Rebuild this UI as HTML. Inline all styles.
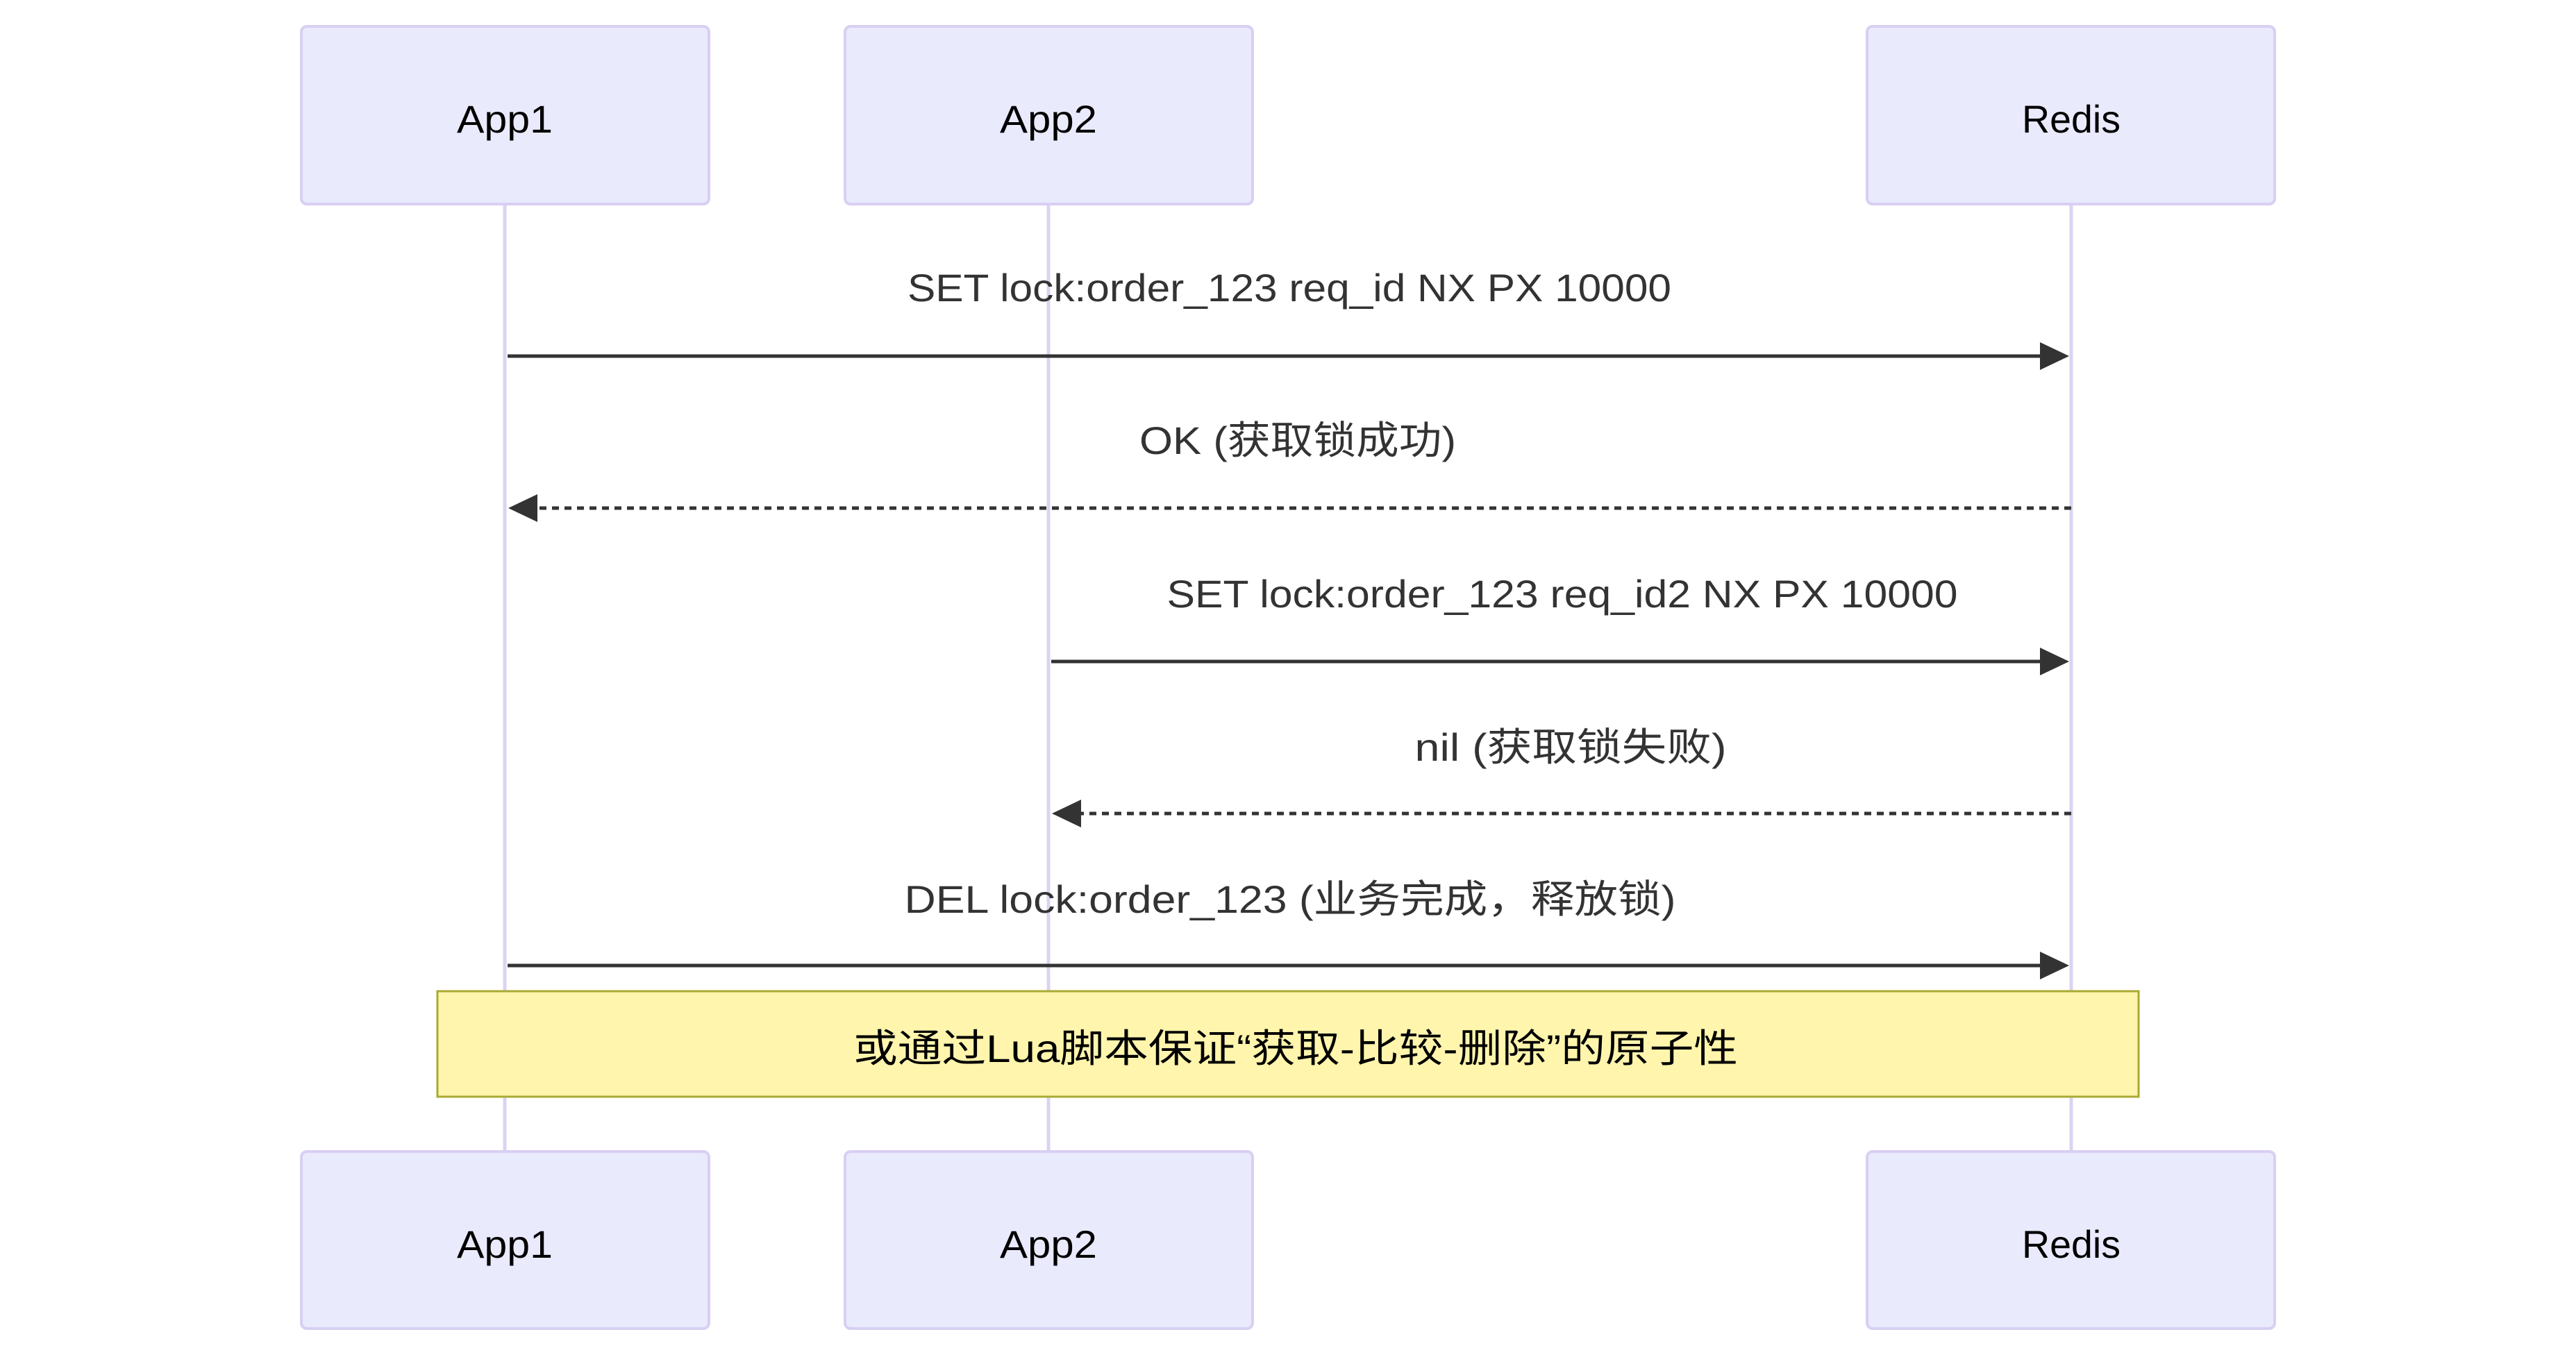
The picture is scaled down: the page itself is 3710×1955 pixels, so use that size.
<!DOCTYPE html>
<html><head><meta charset="utf-8"><style>
html,body{margin:0;padding:0;background:#fff;}
svg{display:block;}
text{font-family:"Liberation Sans","Noto Sans CJK SC",sans-serif;}
</style></head><body>
<svg width="3710" height="1955" viewBox="0 0 3710 1955" xmlns="http://www.w3.org/2000/svg">
<!-- lifelines -->
<g stroke="#dcd3f3" stroke-width="5">
<line x1="727" y1="294" x2="727" y2="1660"/>
<line x1="1510" y1="294" x2="1510" y2="1660"/>
<line x1="2983" y1="294" x2="2983" y2="1660"/>
</g>
<!-- top boxes -->
<g fill="#eaeafd" stroke="#d8cff2" stroke-width="4">
<rect x="434" y="38" width="587" height="256" rx="8"/>
<rect x="1217" y="38" width="587" height="256" rx="8"/>
<rect x="2689" y="38" width="587" height="256" rx="8"/>
<rect x="434" y="1659" width="587" height="255" rx="8"/>
<rect x="1217" y="1659" width="587" height="255" rx="8"/>
<rect x="2689" y="1659" width="587" height="255" rx="8"/>
</g>
<g font-size="56" fill="#000" text-anchor="middle">
<text x="727" y="191" textLength="138" lengthAdjust="spacingAndGlyphs">App1</text>
<text x="1510" y="191" textLength="140" lengthAdjust="spacingAndGlyphs">App2</text>
<text x="2983" y="191" textLength="142" lengthAdjust="spacingAndGlyphs">Redis</text>
<text x="727" y="1812" textLength="138" lengthAdjust="spacingAndGlyphs">App1</text>
<text x="1510" y="1812" textLength="140" lengthAdjust="spacingAndGlyphs">App2</text>
<text x="2983" y="1812" textLength="142" lengthAdjust="spacingAndGlyphs">Redis</text>
</g>
<!-- messages -->
<g stroke="#333" stroke-width="5" fill="none">
<line x1="731" y1="513" x2="2940" y2="513"/>
<line x1="2983" y1="732" x2="772" y2="732" stroke-dasharray="10,8"/>
<line x1="1514" y1="953" x2="2940" y2="953"/>
<line x1="2983" y1="1172" x2="1555" y2="1172" stroke-dasharray="10,8"/>
<line x1="731" y1="1391" x2="2940" y2="1391"/>
</g>
<g fill="#333">
<polygon points="2938,493 2980,513 2938,533"/>
<polygon points="774,712 732,732 774,752"/>
<polygon points="2938,933 2980,953 2938,973"/>
<polygon points="1557,1152 1515,1172 1557,1192"/>
<polygon points="2938,1371 2980,1391 2938,1411"/>
</g>
<g font-size="56" fill="#333" text-anchor="middle">
<text x="1857" y="434" textLength="1100" lengthAdjust="spacingAndGlyphs">SET lock:order_123 req_id NX PX 10000</text>
<text x="1869" y="654" textLength="456" lengthAdjust="spacingAndGlyphs">OK (获取锁成功)</text>
<text x="2250" y="875" textLength="1139" lengthAdjust="spacingAndGlyphs">SET lock:order_123 req_id2 NX PX 10000</text>
<text x="2262" y="1096" textLength="449" lengthAdjust="spacingAndGlyphs">nil (获取锁失败)</text>
<text x="1858" y="1315" textLength="1111" lengthAdjust="spacingAndGlyphs">DEL lock:order_123 (业务完成，释放锁)</text>
</g>
<!-- note -->
<rect x="630" y="1428" width="2450" height="152" fill="#fff5ad" stroke="#aaaa33" stroke-width="3"/>
<text x="1866" y="1530" font-size="56" fill="#000" text-anchor="middle" textLength="1274" lengthAdjust="spacingAndGlyphs">或通过Lua脚本保证“获取-比较-删除”的原子性</text>
</svg>
</body></html>
